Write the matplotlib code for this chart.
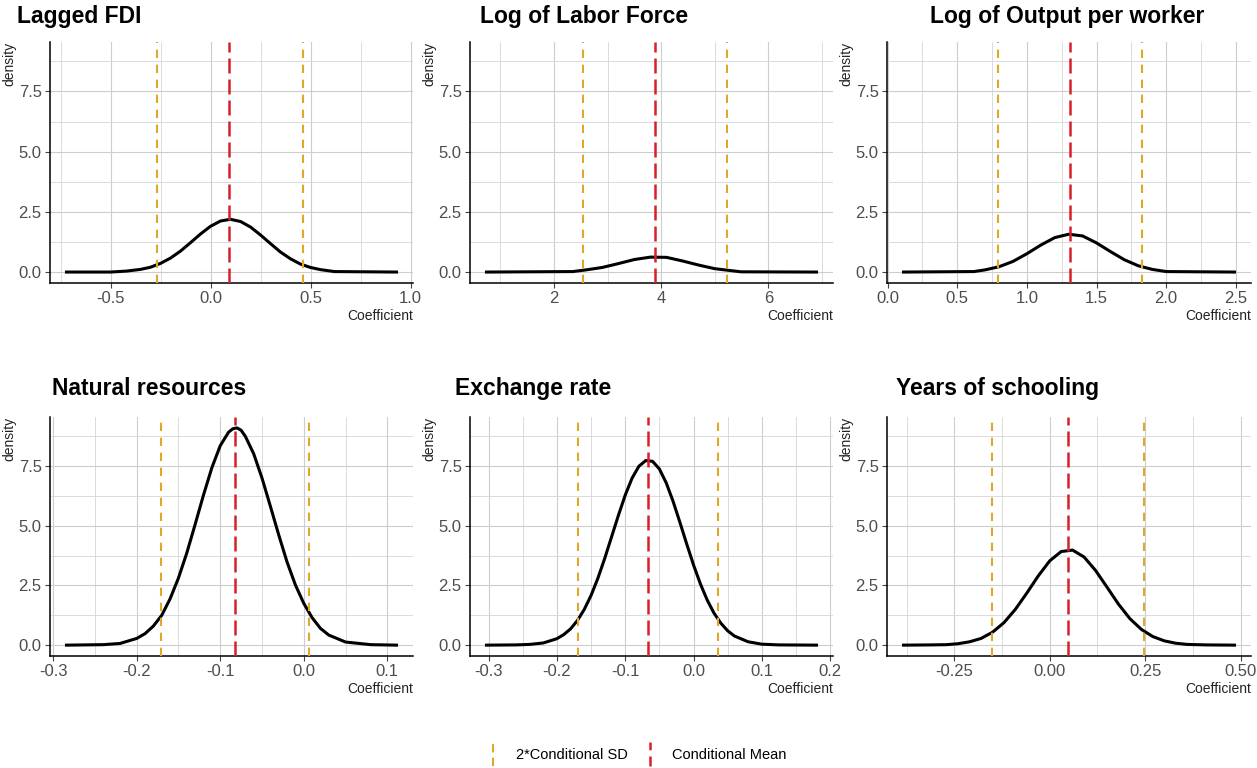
import matplotlib
matplotlib.use("Agg")
import matplotlib.pyplot as plt
from matplotlib.lines import Line2D
from matplotlib.legend_handler import HandlerBase

plt.rcParams['font.family'] = ['Liberation Sans', 'DejaVu Sans']

titles = ["Lagged FDI", "Log of Labor Force", "Log of Output per worker",
          "Natural resources", "Exchange rate", "Years of schooling"]

# density curves (coefficient, density)
fdi_x = [-0.72, -0.50, -0.42, -0.35, -0.30, -0.25, -0.20, -0.15, -0.10, -0.05, 0.00, 0.05, 0.10,
         0.15, 0.20, 0.25, 0.30, 0.35, 0.40, 0.45, 0.50, 0.55, 0.62, 0.93]
fdi_y = [0.00, 0.00, 0.04, 0.11, 0.20, 0.36, 0.58, 0.87, 1.22, 1.58, 1.90, 2.12, 2.19,
         2.10, 1.87, 1.54, 1.18, 0.83, 0.55, 0.33, 0.19, 0.10, 0.02, 0.00]

labor_x = [0.74, 2.35, 2.60, 2.90, 3.20, 3.50, 3.80, 4.10, 4.40, 4.70, 5.00, 5.30, 5.49, 6.90]
labor_y = [0.00, 0.02, 0.09, 0.19, 0.35, 0.52, 0.62, 0.61, 0.46, 0.29, 0.14, 0.06, 0.01, 0.00]

output_x = [0.115, 0.62, 0.70, 0.80, 0.90, 1.00, 1.10, 1.20, 1.30, 1.40, 1.50, 1.60, 1.70,
            1.80, 1.90, 2.00, 2.49]
output_y = [0.00, 0.02, 0.09, 0.22, 0.44, 0.76, 1.12, 1.43, 1.57, 1.50, 1.21, 0.85, 0.51,
            0.26, 0.11, 0.02, 0.00]

natres_x = [-0.284, -0.24, -0.22, -0.20, -0.19, -0.18, -0.17, -0.16, -0.15, -0.14, -0.13,
            -0.12, -0.11, -0.10, -0.09, -0.085, -0.08, -0.075, -0.07, -0.06, -0.05, -0.04,
            -0.03, -0.02, -0.01, 0.00, 0.01, 0.02, 0.03, 0.05, 0.08, 0.111]
natres_y = [0.00, 0.02, 0.07, 0.28, 0.48, 0.80, 1.25, 1.94, 2.81, 3.86, 5.06,
            6.29, 7.43, 8.35, 8.92, 9.06, 9.10, 9.00, 8.75, 8.02, 7.00, 5.82,
            4.62, 3.48, 2.52, 1.75, 1.15, 0.70, 0.42, 0.13, 0.02, 0.00]

exch_x = [-0.303, -0.26, -0.24, -0.22, -0.20, -0.19, -0.18, -0.17, -0.16, -0.15, -0.14,
          -0.13, -0.12, -0.11, -0.10, -0.09, -0.08, -0.07, -0.06, -0.05, -0.04, -0.03,
          -0.02, -0.01, 0.00, 0.01, 0.02, 0.03, 0.04, 0.05, 0.06, 0.08, 0.10, 0.125, 0.18]
exch_y = [0.00, 0.01, 0.03, 0.09, 0.27, 0.44, 0.68, 1.03, 1.49, 2.08, 2.80,
          3.63, 4.53, 5.43, 6.28, 6.99, 7.49, 7.73, 7.70, 7.38, 6.80, 6.03,
          5.15, 4.24, 3.36, 2.57, 1.89, 1.34, 0.92, 0.60, 0.38, 0.14, 0.04, 0.01, 0.00]

school_x = [-0.383, -0.31, -0.27, -0.24, -0.21, -0.18, -0.15, -0.12, -0.09, -0.06, -0.03,
            0.00, 0.03, 0.06, 0.09, 0.12, 0.15, 0.18, 0.21, 0.24, 0.27, 0.30, 0.33, 0.36,
            0.41, 0.484]
school_y = [0.00, 0.01, 0.02, 0.06, 0.14, 0.28, 0.54, 0.94, 1.50, 2.18, 2.90,
            3.53, 3.92, 3.98, 3.69, 3.13, 2.43, 1.72, 1.11, 0.66, 0.36, 0.18, 0.08, 0.03,
            0.01, 0.00]

curves_x = [fdi_x, labor_x, output_x, natres_x, exch_x, school_x]
curves_y = [fdi_y, labor_y, output_y, natres_y, exch_y, school_y]

# conditional mean and mean +/- 2*SD
cond_mean = [0.092, 3.88, 1.312, -0.082, -0.067, 0.048]
sd_low = [-0.267, 2.55, 0.795, -0.171, -0.169, -0.151]
sd_high = [0.462, 5.23, 1.823, 0.006, 0.036, 0.248]

xticks = [[-0.5, 0.0, 0.5, 1.0], [2, 4, 6], [0.0, 0.5, 1.0, 1.5, 2.0, 2.5],
          [-0.3, -0.2, -0.1, 0.0, 0.1], [-0.3, -0.2, -0.1, 0.0, 0.1, 0.2],
          [-0.25, 0.00, 0.25, 0.50]]
xticklabels = [["-0.5", "0.0", "0.5", "1.0"], ["2", "4", "6"],
               ["0.0", "0.5", "1.0", "1.5", "2.0", "2.5"],
               ["-0.3", "-0.2", "-0.1", "0.0", "0.1"],
               ["-0.3", "-0.2", "-0.1", "0.0", "0.1", "0.2"],
               ["-0.25", "0.00", "0.25", "0.50"]]
yticks = [0.0, 2.5, 5.0, 7.5]
yticklabels = ["0.0", "2.5", "5.0", "7.5"]

red = "#d8202a"
gold = "#e2a72a"

W, H = 1257, 768
fig = plt.figure(figsize=(W / 100, H / 100), dpi=100)

lefts = [50, 470, 887]
tops = [42, 417]
widths = [363, 363, 364]
heights = [241, 239]
title_pos = [(17, 23), (480, 23), (930, 23), (52, 395), (455, 395), (896, 395)]

ymax = max(max(c) for c in curves_y)
axes = []
for i in range(6):
    r, c = divmod(i, 3)
    ax = fig.add_axes([lefts[c] / W, 1 - (tops[r] + heights[r]) / H, widths[c] / W, heights[r] / H])
    axes.append(ax)
    xs, ys = curves_x[i], curves_y[i]

    ax.plot(xs, ys, color="black", lw=2.2, zorder=3, solid_joinstyle="round")
    ax.axvline(sd_low[i], color=gold, lw=1.5, dashes=(4.0, 3.2), zorder=4)
    ax.axvline(sd_high[i], color=gold, lw=1.5, dashes=(4.0, 3.2), zorder=4)
    ax.axvline(cond_mean[i], color=red, lw=1.8, dashes=(6, 2.4), zorder=5)

    ax.set_xticks(xticks[i])
    ax.set_xticklabels(xticklabels[i])
    ax.set_yticks(yticks)
    ax.set_yticklabels(yticklabels)
    mt = xticks[i]
    step = mt[1] - mt[0]
    minors = [mt[0] - step / 2] + [t + step / 2 for t in mt]
    ax.set_xticks(minors, minor=True)
    ax.set_yticks([1.25, 3.75, 6.25, 8.75], minor=True)

    span = xs[-1] - xs[0]
    ax.set_xlim(xs[0] - 0.05 * span, xs[-1] + 0.05 * span)
    ax.set_ylim(-0.05 * ymax, 1.05 * ymax)

    ax.grid(which="major", color="#cdcdcd", lw=0.8)
    ax.grid(which="minor", color="#d6d6d6", lw=0.6)
    ax.set_axisbelow(True)
    ax.tick_params(which="minor", length=0)
    ax.tick_params(which="major", length=3.5, width=0.8, color="#444444", pad=2.5,
                   labelsize=12, labelcolor="#4d4d4d")
    for s in ["top", "right"]:
        ax.spines[s].set_visible(False)
    for s in ["left", "bottom"]:
        ax.spines[s].set_color("black")
        ax.spines[s].set_linewidth(1.1)

    ax.set_ylabel("density", fontsize=10, color="#222222", loc="top")
    ax.yaxis.set_label_coords(-34 / widths[c], 1.0)
    ax.set_xlabel("Coefficient", fontsize=10, color="#222222", loc="right")
    ax.xaxis.set_label_coords(1.0, -26 / heights[r])

    tx, ty = title_pos[i]
    fig.text(tx / W, 1 - ty / H, titles[i], fontsize=16.5, fontweight="bold",
             ha="left", va="baseline")


class VLineHandler(HandlerBase):
    def create_artists(self, legend, orig_handle, xdescent, ydescent, width, height,
                       fontsize, trans):
        x = width / 2 - xdescent
        line = Line2D([x, x], [-ydescent - 0.7 * height, 1.7 * height - ydescent],
                      color=orig_handle.get_color(), lw=orig_handle.get_linewidth(),
                      linestyle=(0, (4, 2.5)))
        line.set_transform(trans)
        return [line]


handles = [Line2D([], [], color=gold, lw=1.5), Line2D([], [], color=red, lw=1.8)]
labels = ["2*Conditional SD", "Conditional Mean"]
fig.legend(handles, labels, loc="center", bbox_to_anchor=(637 / W, 1 - 755 / H),
           ncol=2, frameon=False, fontsize=10.5, handlelength=0.8, handletextpad=1.15,
           columnspacing=1.1, handler_map={Line2D: VLineHandler()})

fig.savefig("out.png", dpi=100, facecolor="white")
